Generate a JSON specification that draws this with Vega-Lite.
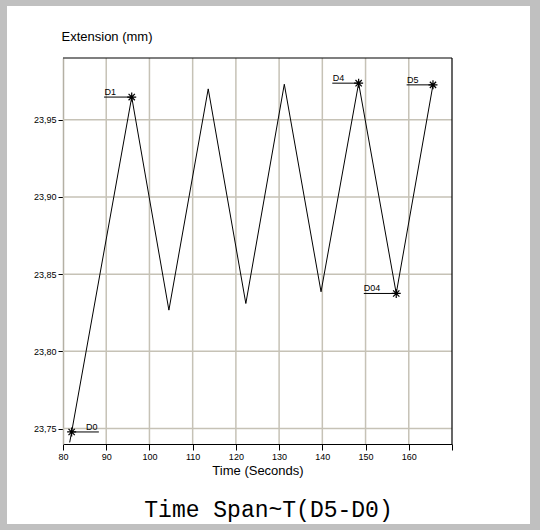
{
  "$schema": "https://vega.github.io/schema/vega-lite/v6.json",
  "width": 523,
  "height": 518,
  "autosize": {"type": "none"},
  "padding": {"left": 7, "top": 6, "right": 10, "bottom": 6},
  "background": "#c0c0c0",
  "config": {"view": {"fill": "white", "stroke": null}, "font": "Liberation Sans"},
  "title": {"text": "Time Span~T(D5-D0)", "orient": "bottom", "anchor": "middle", "frame": "group", "font": "Liberation Mono", "fontSize": 23, "fontWeight": "normal", "color": "black", "baseline": "alphabetic", "offset": -7},
  "datasets": {
    "curve": [
      {"t": 81.55, "ext": 23.741},
      {"t": 82.0, "ext": 23.7478},
      {"t": 95.9, "ext": 23.9647},
      {"t": 104.5, "ext": 23.8267},
      {"t": 113.6, "ext": 23.970},
      {"t": 122.3, "ext": 23.831},
      {"t": 131.2, "ext": 23.973},
      {"t": 139.7, "ext": 23.8386},
      {"t": 148.4, "ext": 23.9737},
      {"t": 157.1, "ext": 23.8375},
      {"t": 165.6, "ext": 23.9726}
    ],
    "markers": [
      {"name": "D0", "t": 82.0, "ext": 23.7478, "x0": 82.0, "x1": 88.3, "tx": 85.3},
      {"name": "D1", "t": 95.9, "ext": 23.9647, "x0": 89.5, "x1": 95.9, "tx": 89.6},
      {"name": "D4", "t": 148.4, "ext": 23.9737, "x0": 142.3, "x1": 148.4, "tx": 142.4},
      {"name": "D04", "t": 157.1, "ext": 23.8375, "x0": 149.6, "x1": 157.1, "tx": 149.6},
      {"name": "D5", "t": 165.6, "ext": 23.9726, "x0": 159.5, "x1": 165.6, "tx": 159.6}
    ],
    "vgrid": [{"v": 90}, {"v": 100}, {"v": 110}, {"v": 120}, {"v": 130}, {"v": 140}, {"v": 150}, {"v": 160}],
    "hgrid": [{"v": 23.75}, {"v": 23.80}, {"v": 23.85}, {"v": 23.90}, {"v": 23.95}],
    "one": [{"k": 1}]
  },
  "layer": [
    {
      "data": {"name": "vgrid"},
      "mark": {"type": "rule", "color": "#c6c2b6", "strokeWidth": 1.5},
      "encoding": {
        "x": {"field": "v", "type": "quantitative", "title": "Time (Seconds)"},
        "y": {"datum": 23.74, "type": "quantitative", "title": "Extension (mm)"},
        "y2": {"datum": 23.99}
      }
    },
    {
      "data": {"name": "hgrid"},
      "mark": {"type": "rule", "color": "#c6c2b6", "strokeWidth": 1.5},
      "encoding": {
        "y": {"field": "v", "type": "quantitative", "title": "Extension (mm)"},
        "x": {"datum": 80, "type": "quantitative", "title": "Time (Seconds)"},
        "x2": {"datum": 170}
      }
    },
    {
      "data": {"name": "one"},
      "mark": {"type": "rule", "color": "black", "strokeWidth": 1.2},
      "encoding": {
        "y": {"datum": 23.99, "type": "quantitative", "title": "Extension (mm)"},
        "x": {"datum": 80, "type": "quantitative", "title": "Time (Seconds)"},
        "x2": {"datum": 170}
      }
    },
    {
      "data": {"name": "one"},
      "mark": {"type": "rule", "color": "black", "strokeWidth": 1.2},
      "encoding": {
        "x": {"datum": 170, "type": "quantitative", "title": "Time (Seconds)"},
        "y": {"datum": 23.74, "type": "quantitative", "title": "Extension (mm)"},
        "y2": {"datum": 23.99}
      }
    },
    {
      "data": {"name": "curve"},
      "mark": {"type": "line", "color": "black", "strokeWidth": 1},
      "encoding": {
        "x": {
          "field": "t", "type": "quantitative", "title": "Time (Seconds)",
          "scale": {"domain": [80, 170], "range": [56, 445], "nice": false, "zero": false},
          "axis": {
            "values": [80, 85, 90, 95, 100, 105, 110, 115, 120, 125, 130, 135, 140, 145, 150, 155, 160, 165, 170],
            "labelExpr": "datum.value % 10 === 0 && datum.value < 170 ? datum.label : ''",
            "grid": false, "offset": -80,
            "domainColor": "black", "domainWidth": 1.2,
            "tickColor": "black", "tickSize": 6, "tickWidth": 1,
            "labelFontSize": 9, "labelPadding": 2, "labelColor": "black",
            "labelFlush": false, "labelOverlap": false, "labelFont": "Liberation Sans",
            "titleFontSize": 13, "titleFontWeight": "normal", "titleColor": "black", "titleFont": "Liberation Sans",
            "titleY": 30, "titleBaseline": "alphabetic"
          }
        },
        "y": {
          "field": "ext", "type": "quantitative", "title": "Extension (mm)",
          "scale": {"domain": [23.74, 23.99], "range": [438, 52], "nice": false, "zero": false},
          "axis": {
            "values": [23.75, 23.8, 23.85, 23.9, 23.95],
            "labelExpr": "replace(format(datum.value, '.2f'), '.', ',')",
            "grid": false, "offset": -56,
            "domainColor": "#b4b0a4", "domainWidth": 1.5,
            "tickColor": "black", "tickSize": 5, "tickWidth": 1,
            "labelFontSize": 9, "labelPadding": 2, "labelColor": "black", "labelFont": "Liberation Sans",
            "titleAngle": 0, "titleAlign": "left", "titleBaseline": "alphabetic",
            "titleX": -2, "titleY": 34,
            "titleFontSize": 13, "titleFontWeight": "normal", "titleColor": "black", "titleFont": "Liberation Sans"
          }
        }
      }
    },
    {
      "data": {"name": "markers"},
      "mark": {"type": "rule", "color": "black", "strokeWidth": 1},
      "encoding": {
        "x": {"field": "x0", "type": "quantitative", "title": "Time (Seconds)"},
        "x2": {"field": "x1"},
        "y": {"field": "ext", "type": "quantitative", "title": "Extension (mm)"}
      }
    },
    {
      "data": {"name": "markers"},
      "mark": {"type": "point", "shape": "M-1,0L1,0M0,-1L0,1M-0.7,-0.7L0.7,0.7M-0.7,0.7L0.7,-0.7", "filled": false, "stroke": "black", "strokeWidth": 1.2, "size": 81, "opacity": 1},
      "encoding": {
        "x": {"field": "t", "type": "quantitative", "title": "Time (Seconds)"},
        "y": {"field": "ext", "type": "quantitative", "title": "Extension (mm)"}
      }
    },
    {
      "data": {"name": "markers"},
      "mark": {"type": "text", "align": "left", "baseline": "alphabetic", "dy": -2, "fontSize": 9, "font": "Liberation Sans", "color": "black"},
      "encoding": {
        "x": {"field": "tx", "type": "quantitative", "title": "Time (Seconds)"},
        "y": {"field": "ext", "type": "quantitative", "title": "Extension (mm)"},
        "text": {"field": "name"}
      }
    }
  ]
}
